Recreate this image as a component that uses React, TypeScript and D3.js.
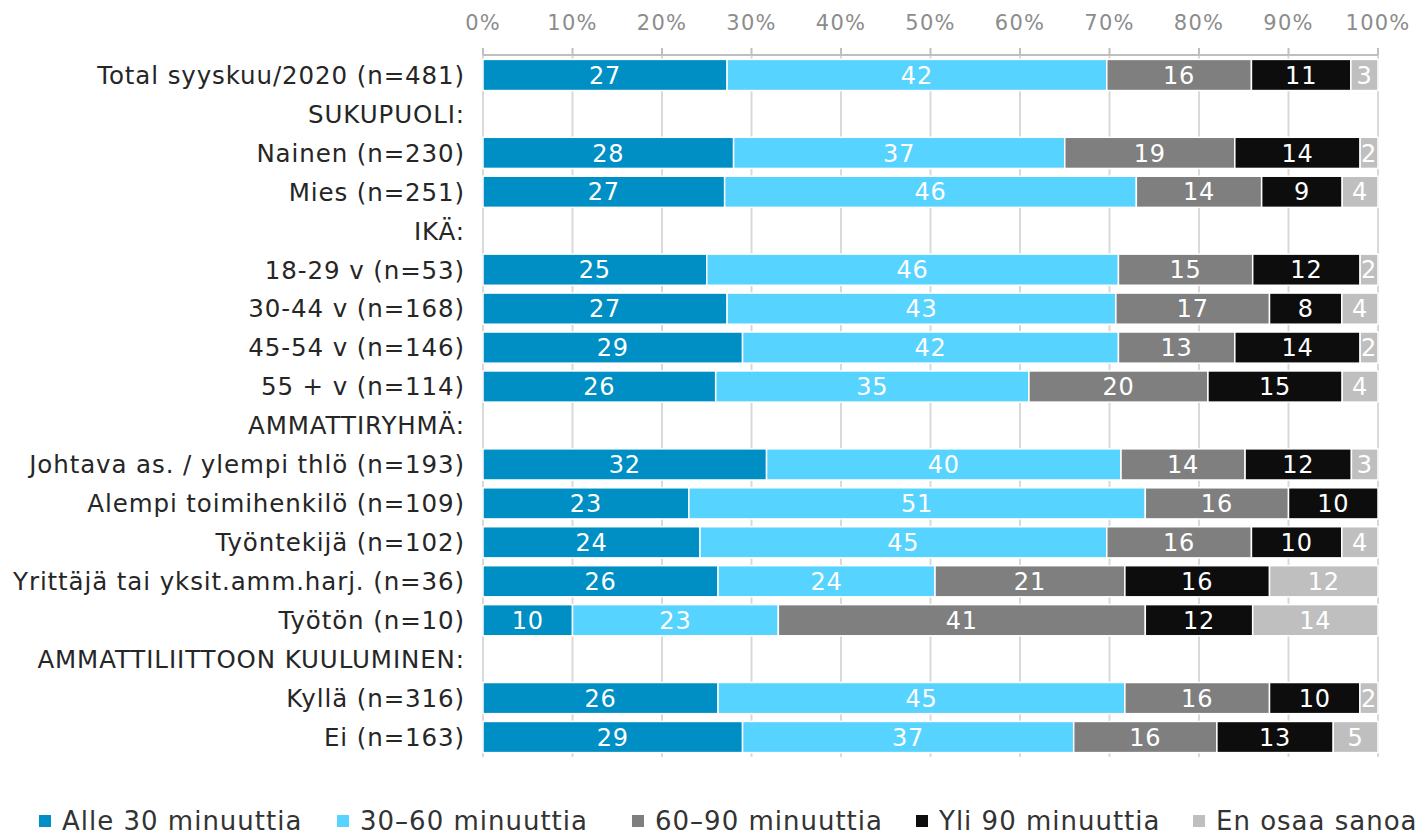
import React from "react";
import * as d3 from "d3";

const categories = [
  "Total syyskuu/2020 (n=481)",
  "SUKUPUOLI:",
  "Nainen (n=230)",
  "Mies (n=251)",
  "IKÄ:",
  "18-29 v (n=53)",
  "30-44 v (n=168)",
  "45-54 v (n=146)",
  "55 + v (n=114)",
  "AMMATTIRYHMÄ:",
  "Johtava as. / ylempi thlö (n=193)",
  "Alempi toimihenkilö (n=109)",
  "Työntekijä (n=102)",
  "Yrittäjä tai yksit.amm.harj. (n=36)",
  "Työtön (n=10)",
  "AMMATTILIITTOON KUULUMINEN:",
  "Kyllä (n=316)",
  "Ei (n=163)",
];

const seriesNames = ["Alle 30 minuuttia", "30–60 minuuttia", "60–90 minuuttia", "Yli 90 minuuttia", "En osaa sanoa"];
const seriesColors = ["#008FC4", "#57D3FF", "#7F7F7F", "#0D0D0D", "#BFBFBF"];

const alle30 = [27, null, 28, 27, null, 25, 27, 29, 26, null, 32, 23, 24, 26, 10, null, 26, 29];
const min30_60 = [42, null, 37, 46, null, 46, 43, 42, 35, null, 40, 51, 45, 24, 23, null, 45, 37];
const min60_90 = [16, null, 19, 14, null, 15, 17, 13, 20, null, 14, 16, 16, 21, 41, null, 16, 16];
const yli90 = [11, null, 14, 9, null, 12, 8, 14, 15, null, 12, 10, 10, 16, 12, null, 10, 13];
const enOsaa = [3, null, 2, 4, null, 2, 4, 2, 4, null, 3, 0, 4, 12, 14, null, 2, 5];

const tickValues = [0, 10, 20, 30, 40, 50, 60, 70, 80, 90, 100];

const W = 1422;
const H = 835;
const FONT = "'DejaVu Sans', Verdana, sans-serif";

export default function App() {
  const series = [alle30, min30_60, min60_90, yli90, enOsaa];
  const x = d3.scaleLinear().domain([0, 100]).range([483, 1378]);
  const y = d3.scaleBand<string>().domain(categories).range([55.5, 756.5]).paddingInner(0.2).paddingOuter(0.1);

  const rows = categories.map((c, i) => {
    const vals = series.map((s) => (s[i] == null ? 0 : (s[i] as number)));
    const total = d3.sum(vals);
    let acc = 0;
    const segs = vals.map((v, k) => {
      const p0 = total ? (acc / total) * 100 : 0;
      acc += v;
      const p1 = total ? (acc / total) * 100 : 0;
      return { k, v, p0, p1 };
    });
    return { c, i, total, segs };
  });

  const legendX = [39, 337, 632, 916, 1193];

  return (
    <div style={{ position: "absolute", left: 0, top: 0 }}>
      <svg width={W} height={H} style={{ display: "block", background: "#fff" }}>
        {/* gridlines */}
        {tickValues.map((t) => (
          <line key={"g" + t} x1={x(t)} x2={x(t)} y1={55} y2={757} stroke="#D9D9D9" strokeWidth={2} />
        ))}
        {/* axis */}
        <line x1={x(0)} x2={x(100)} y1={55} y2={55} stroke="#BFBFBF" strokeWidth={2} />
        {tickValues.map((t) => (
          <g key={"t" + t}>
            <line x1={x(t)} x2={x(t)} y1={48} y2={55} stroke="#BFBFBF" strokeWidth={2} />
            <text
              x={x(t)}
              y={30}
              textAnchor="middle"
              fontFamily={FONT}
              fontSize={21}
              letterSpacing={1.2}
              fill="#8C8C8C"
            >
              {t + "%"}
            </text>
          </g>
        ))}
        {/* bars */}
        {rows.map((r) => (
          <g key={r.c}>
            <text
              x={465}
              y={(y(r.c) as number) + y.bandwidth() / 2}
              dy="0.36em"
              textAnchor="end"
              fontFamily={FONT}
              fontSize={24.5}
              letterSpacing={0.9}
              fill="#262626"
            >
              {r.c}
            </text>
            {r.total > 0 &&
              r.segs
                .filter((s) => s.v > 0)
                .map((s) => (
                  <g key={s.k}>
                    <rect
                      x={x(s.p0)}
                      y={y(r.c)}
                      width={x(s.p1) - x(s.p0)}
                      height={y.bandwidth()}
                      fill={seriesColors[s.k]}
                      stroke="#fff"
                      strokeWidth={1.5}
                    />
                    <text
                      x={(x(s.p0) + x(s.p1)) / 2}
                      y={(y(r.c) as number) + y.bandwidth() / 2}
                      dy="0.36em"
                      textAnchor="middle"
                      fontFamily={FONT}
                      fontSize={24}
                      letterSpacing={0.8}
                      fill="#fff"
                    >
                      {s.v}
                    </text>
                  </g>
                ))}
          </g>
        ))}
        {/* legend */}
        {seriesNames.map((n, k) => (
          <g key={n}>
            <rect x={legendX[k]} y={815} width={12} height={12} fill={seriesColors[k]} />
            <text
              x={legendX[k] + 23}
              y={830}
              fontFamily={FONT}
              fontSize={26}
              letterSpacing={1}
              fill="#333333"
            >
              {n}
            </text>
          </g>
        ))}
      </svg>
    </div>
  );
}
